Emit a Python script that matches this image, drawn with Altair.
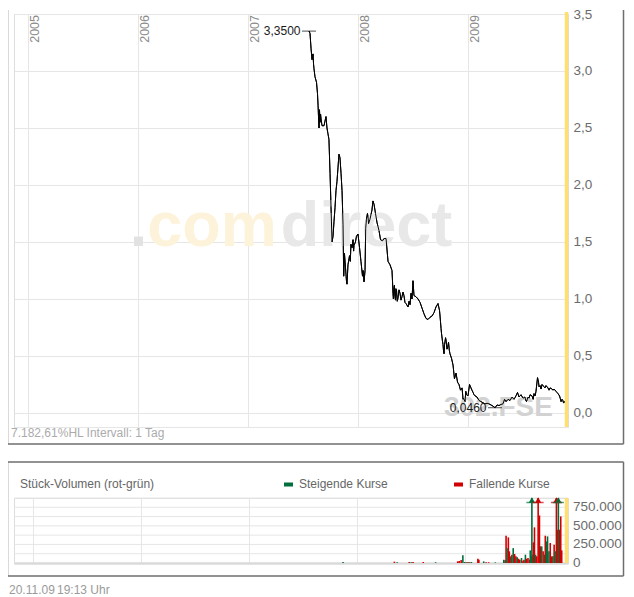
import altair as alt
import pandas as pd

# ---------------- data ----------------
years = [2005, 2006, 2007, 2008, 2009]
year_labels = ["2005", "2006", "2007", "2008", "2009"]

price_year = [
    2007.555, 2007.564, 2007.573, 2007.582, 2007.591, 2007.600, 2007.609, 2007.623, 2007.632, 2007.641,
    2007.646, 2007.650, 2007.655, 2007.664, 2007.673, 2007.691, 2007.709, 2007.718, 2007.727, 2007.736,
    2007.746, 2007.755, 2007.764, 2007.773, 2007.782, 2007.791, 2007.800, 2007.809, 2007.818, 2007.827,
    2007.836, 2007.846, 2007.855, 2007.864, 2007.877, 2007.886, 2007.900, 2007.909, 2007.923, 2007.936,
    2007.946, 2007.955, 2007.964, 2007.977, 2007.986, 2008.000, 2008.014, 2008.027, 2008.046, 2008.055,
    2008.064, 2008.077, 2008.086, 2008.096, 2008.109, 2008.127, 2008.136, 2008.146, 2008.159, 2008.173,
    2008.191, 2008.205, 2008.223, 2008.236, 2008.255, 2008.273, 2008.291, 2008.309, 2008.318, 2008.327,
    2008.336, 2008.350, 2008.364, 2008.382, 2008.400, 2008.418, 2008.436, 2008.455, 2008.464, 2008.482,
    2008.500, 2008.509, 2008.527, 2008.546, 2008.564, 2008.582, 2008.600, 2008.618, 2008.636, 2008.655,
    2008.673, 2008.691, 2008.709, 2008.727, 2008.741, 2008.750, 2008.759, 2008.773, 2008.782, 2008.796,
    2008.809, 2008.823, 2008.836, 2008.850, 2008.864, 2008.877, 2008.891, 2008.905, 2008.918, 2008.932,
    2008.946, 2008.959, 2008.973, 2008.986, 2009.000, 2009.014, 2009.027, 2009.046, 2009.064, 2009.082,
    2009.100, 2009.118, 2009.136, 2009.155, 2009.173, 2009.191, 2009.209, 2009.227, 2009.246, 2009.264,
    2009.282, 2009.300, 2009.318, 2009.332, 2009.346, 2009.364, 2009.382, 2009.400, 2009.418, 2009.436,
    2009.450, 2009.464, 2009.482, 2009.500, 2009.518, 2009.532, 2009.546, 2009.564, 2009.582, 2009.600,
    2009.618, 2009.632, 2009.641, 2009.655, 2009.673, 2009.691, 2009.709, 2009.727, 2009.746, 2009.764,
    2009.782, 2009.800, 2009.818, 2009.832, 2009.846, 2009.855, 2009.868, 2009.882,
]
price_value = [
    3.35, 3.33, 3.20, 3.10, 3.15, 3.02, 2.95, 2.90, 2.80, 2.60,
    2.50, 2.66, 2.55, 2.58, 2.52, 2.52, 2.60, 2.50, 2.45, 2.40,
    2.10, 1.80, 1.50, 1.55, 1.68, 1.80, 1.95, 2.03, 2.15, 2.27,
    2.24, 2.10, 1.95, 1.65, 1.40, 1.28, 1.13, 1.30, 1.38, 1.48,
    1.45, 1.52, 1.47, 1.50, 1.55, 1.57, 1.45, 1.33, 1.25, 1.15,
    1.25, 1.70, 1.75, 1.66, 1.70, 1.78, 1.86, 1.83, 1.75, 1.67,
    1.60, 1.52, 1.51, 1.53, 1.53, 1.33, 1.30, 1.25, 1.05, 1.10,
    1.02, 1.08, 1.01, 1.05, 1.02, 1.03, 0.96, 0.93, 0.98, 1.05,
    1.16, 1.03, 1.02, 1.00, 0.97, 0.92, 0.87, 0.83, 0.82, 0.84,
    0.85, 0.88, 0.93, 0.96, 0.90, 0.80, 0.70, 0.60, 0.52, 0.66,
    0.56, 0.62, 0.52, 0.48, 0.42, 0.30, 0.35, 0.27, 0.25, 0.20,
    0.22, 0.13, 0.10, 0.16, 0.15, 0.25, 0.22, 0.18, 0.15, 0.14,
    0.11, 0.10, 0.09, 0.08, 0.085, 0.08, 0.07, 0.06, 0.046, 0.07,
    0.065, 0.075, 0.08, 0.12, 0.10, 0.12, 0.11, 0.14, 0.12, 0.15,
    0.18, 0.14, 0.16, 0.13, 0.14, 0.10, 0.14, 0.16, 0.15, 0.17,
    0.19, 0.31, 0.27, 0.24, 0.25, 0.23, 0.24, 0.22, 0.22, 0.21,
    0.21, 0.19, 0.17, 0.15, 0.10, 0.12, 0.09, 0.10,
]
price_detail_year = [
    2007.596, 2007.637, 2007.660, 2007.700,
    2007.870, 2007.895, 2007.930, 2007.960,
    2008.041, 2008.070, 2008.091, 2008.118,
    2008.314, 2008.322, 2008.331, 2008.341, 2008.345, 2008.357, 2008.373, 2008.391,
    2008.409, 2008.427, 2008.473, 2008.491,
    2008.745, 2008.755, 2008.768, 2008.777, 2008.787, 2008.800, 2008.816, 2008.830,
    2008.955, 2008.980, 2009.036, 2009.055,
    2009.525, 2009.555, 2009.592, 2009.610, 2009.646, 2009.664, 2009.700, 2009.737,
    2009.773, 2009.809, 2009.838, 2009.862,
]
price_detail_value = [
    3.06, 2.70, 2.62, 2.56,
    1.20, 1.16, 1.33, 1.42,
    1.20, 1.62, 1.72, 1.74,
    1.15, 1.00, 1.12, 0.99, 1.09, 0.98, 1.08, 0.99,
    1.06, 0.97, 0.95, 1.00,
    0.86, 0.74, 0.63, 0.55, 0.60, 0.64, 0.58, 0.55,
    0.12, 0.19, 0.20, 0.16,
    0.11, 0.13, 0.12, 0.15, 0.23, 0.21, 0.22, 0.20,
    0.20, 0.18, 0.13, 0.11,
]

high_year, high_value, high_label = 2007.555, 3.35, "3,3500"
low_year, low_value, low_label = 2009.2455, 0.046, "0,0460"

price_ticks = [0.0, 0.5, 1.0, 1.5, 2.0, 2.5, 3.0, 3.5]

vol_year = [
    2007.873, 2008.348, 2008.373, 2008.485, 2008.503, 2008.521, 2008.615, 2008.730,
    2008.934, 2008.948, 2008.966, 2008.982, 2009.000, 2009.015, 2009.030, 2009.045, 2009.061,
    2009.121, 2009.130, 2009.175, 2009.197, 2009.221, 2009.282,
    2009.361, 2009.373, 2009.382, 2009.391, 2009.403, 2009.412, 2009.425, 2009.436, 2009.448,
    2009.461, 2009.473, 2009.485, 2009.497, 2009.509, 2009.525, 2009.539, 2009.548, 2009.561,
    2009.573, 2009.585, 2009.600, 2009.606, 2009.615, 2009.621, 2009.630, 2009.636, 2009.645,
    2009.655, 2009.666, 2009.679, 2009.691, 2009.700, 2009.712, 2009.725, 2009.736, 2009.745,
    2009.757, 2009.766, 2009.779, 2009.791, 2009.803, 2009.815, 2009.827, 2009.836, 2009.848,
    2009.857, 2009.866, 2009.879, 2009.888, 2009.897,
]
vol_value = [
    13000, 18000, 10000, 13000, 10000, 13000, 13000, 10000,
    22000, 27000, 40000, 103000, 13000, 10000, 13000, 10000, 13000,
    58000, 45000, 22000, 10000, 10000, 8000,
    45000, 36000, 367000, 200000, 345000, 157000, 90000, 112000, 200000,
    121000, 90000, 76000, 58000, 45000, 67000, 31000, 45000, 112000,
    58000, 67000, 45000, 170000, 90000, 1200000, 112000, 278000, 480000,
    112000, 90000, 1300000, 640000, 224000, 224000, 157000, 112000, 367000,
    291000, 358000, 157000, 269000, 90000, 90000, 246000, 157000, 1100000,
    448000, 1150000, 448000, 627000, 170000,
]
vol_dir = [
    "up", "down", "up", "down", "up", "down", "down", "up",
    "down", "down", "down", "up", "up", "down", "up", "down", "up",
    "down", "down", "up", "down", "down", "up",
    "up", "up", "down", "up", "down", "down", "up", "down", "up",
    "down", "down", "up", "down", "down", "up", "down", "down", "up",
    "down", "down", "down", "up", "up", "up", "up", "down", "down",
    "up", "down", "down", "down", "down", "up", "down", "up", "down",
    "up", "up", "up", "down", "down", "up", "down", "up", "down",
    "down", "up", "down", "down", "down",
]
vol_grid = [125000, 250000, 375000, 500000, 625000, 750000, 875000]
vol_label_values = [0, 250000, 500000, 750000]
vol_label_texts = ["0", "250.000", "500.000", "750.000"]
vol_max = 875000

X_DOMAIN = [2004.873, 2009.909]

GREEN = "#006f3c"
RED = "#d20000"
YELLOW = "#ffdf70"
GRID = "#e6e6e6"
FRAME = "#6e6e6e"
FONT = "Liberation Sans"
LABEL = "#6b6b6b"

price_df = pd.concat([
    pd.DataFrame({"year": price_year, "price": price_value}),
    pd.DataFrame({"year": price_detail_year, "price": price_detail_value}),
]).sort_values("year").reset_index(drop=True)
years_df = pd.DataFrame({"year": years, "label": year_labels})
vol_df = pd.DataFrame({"year": vol_year, "vol": vol_value, "dir": vol_dir})
vgrid_df = pd.DataFrame({"v": vol_grid})
vlab_df = pd.DataFrame({"v": vol_label_values, "t": vol_label_texts})
high_df = pd.DataFrame({"year": [high_year], "price": [high_value], "label": [high_label]})
low_df = pd.DataFrame({"year": [low_year], "price": [low_value], "label": [low_label]})
one = pd.DataFrame({"a": [0]})

xs = alt.Scale(domain=X_DOMAIN, nice=False, zero=False)
ys = alt.Scale(domain=[-0.123, 3.5], nice=False, zero=False)
vs = alt.Scale(domain=[0, vol_max], nice=False, zero=True)

W1, H1 = 554, 413
W2, H2 = 554, 65
XL = -6.5   # left frame line (relative to plot left)
XR = 609.5  # right frame line (relative to plot left)

# ---------------- price panel ----------------
x_axis_p = alt.Axis(values=years, grid=True, gridColor=GRID, gridWidth=1, labels=False,
                    ticks=False, domain=True, domainColor=GRID, title=None)
y_axis_p = alt.Axis(orient="right", values=price_ticks, grid=True, gridColor=GRID, ticks=False,
                    domain=False, title=None, labelPadding=5, labelFontSize=13.5,
                    labelColor=LABEL, labelFont=FONT, labelOverlap=False,
                    labelExpr="replace(format(datum.value, '.1f'), '.', ',')")


def wm(text, xyr, yv, color, size):
    return alt.Chart(one).mark_text(text=text, align="left", baseline="alphabetic",
                                    fontSize=size, fontWeight="bold", font=FONT,
                                    color=color).encode(
        x=alt.X("xx:Q", scale=xs), y=alt.Y("yy:Q", scale=ys)
    ).transform_calculate(xx=str(xyr), yy=str(yv))


wm_dot = wm(".", 2005.925, 1.465, "#e2e2e2", 63)
wm_com = wm("com", 2006.085, 1.465, "#fdf3da", 63)
wm_direct = wm("direct", 2007.297, 1.465, "#e7e8e7", 63)
wm_fse = wm("302.FSE", 2008.782, -0.026, "#d2d2d2", 28)

stripe1 = alt.Chart(one).mark_rule(color=YELLOW, strokeWidth=3.5).encode(
    x=alt.value(552.5), y=alt.value(-2), y2=alt.value(H1))

line = alt.Chart(price_df).mark_line(color="#000000", strokeWidth=1, interpolate="linear").encode(
    x=alt.X("year:Q", scale=xs, axis=x_axis_p),
    y=alt.Y("price:Q", scale=ys, axis=y_axis_p),
    order="year:Q",
)


def marker(df):
    tick = alt.Chart(df).mark_tick(orient="horizontal", size=14, thickness=1, color="#000000").encode(
        x=alt.X("year:Q", scale=xs), y=alt.Y("price:Q", scale=ys))
    txt = alt.Chart(df).mark_text(align="right", baseline="middle", dx=-8.5, fontSize=12,
                                  font=FONT, color="#1a1a1a").encode(
        x=alt.X("year:Q", scale=xs), y=alt.Y("price:Q", scale=ys), text="label:N")
    return tick + txt


year_txt = alt.Chart(years_df).mark_text(angle=270, align="right", baseline="top", dy=1,
                                         fontSize=12.5, font=FONT, color="#8a8a8a").encode(
    x=alt.X("year:Q", scale=xs), y=alt.value(1), text="label:N")

frame1_l = alt.Chart(one).mark_rule(color=FRAME, strokeWidth=1.5).encode(
    x=alt.value(XL), y=alt.value(-4), y2=alt.value(430))
frame1_r = alt.Chart(one).mark_rule(color=FRAME, strokeWidth=1.5).encode(
    x=alt.value(XR), y=alt.value(-4), y2=alt.value(430))
frame1_b = alt.Chart(one).mark_rule(color=FRAME, strokeWidth=1.5).encode(
    x=alt.value(XL), x2=alt.value(XR), y=alt.value(430))

info_txt = alt.Chart(one).mark_text(text="7.182,61%HL Intervall: 1 Tag", align="left",
                                    baseline="middle", fontSize=12, font=FONT,
                                    color="#ababab").encode(
    x=alt.value(-3), y=alt.value(419))

panel1 = alt.layer(
    line, wm_dot, wm_com, wm_direct, wm_fse, stripe1, line,
    marker(high_df), marker(low_df), year_txt,
    frame1_l, frame1_r, frame1_b, info_txt,
).properties(width=W1, height=H1)

# ---------------- volume panel ----------------
x_axis_v = alt.Axis(values=years, grid=True, gridColor=GRID, gridWidth=1, labels=False,
                    ticks=False, domain=True, domainColor="#dadada", domainWidth=2.5, title=None)

color_enc = alt.Color("dir:N", scale=alt.Scale(domain=["up", "down"], range=[GREEN, RED]), legend=None)

vgrid = alt.Chart(vgrid_df).mark_rule(color=GRID, strokeWidth=1).encode(
    x=alt.value(0), x2=alt.value(W2), y=alt.Y("v:Q", scale=vs, axis=None))
vlabels = alt.Chart(vlab_df).mark_text(align="left", baseline="middle", dx=5, fontSize=13.5,
                                       font=FONT, color=LABEL).encode(
    x=alt.value(W2), y=alt.Y("v:Q", scale=vs, axis=None), text="t:N")

bars = alt.Chart(vol_df).mark_bar(size=1.6, clip=True).encode(
    x=alt.X("year:Q", scale=xs, axis=x_axis_v),
    y=alt.Y("vol:Q", scale=vs, axis=None),
    color=color_enc,
)

over = alt.Chart(vol_df).transform_filter(f"datum.vol > {vol_max}").transform_calculate(top=str(vol_max))
arrows = over.mark_point(shape="triangle-up", filled=True, size=38, yOffset=2, opacity=1).encode(
    x=alt.X("year:Q", scale=xs), y=alt.Y("top:Q", scale=vs, axis=None), color=color_enc)
arrow_base = over.mark_tick(orient="horizontal", size=11, thickness=1.5, yOffset=4.5).encode(
    x=alt.X("year:Q", scale=xs), y=alt.Y("top:Q", scale=vs, axis=None), color=color_enc)

stripe2 = alt.Chart(one).mark_rule(color=YELLOW, strokeWidth=3.5).encode(
    x=alt.value(552.5), y=alt.value(0), y2=alt.value(H2))

vtitle = alt.Chart(one).mark_text(text="Stück-Volumen (rot-grün)", align="left", baseline="middle",
                                  fontSize=12, font=FONT, color="#666666").encode(
    x=alt.value(6), y=alt.value(-14))
leg_g = alt.Chart(one).mark_rule(color=GREEN, strokeWidth=4).encode(
    x=alt.value(270), x2=alt.value(279), y=alt.value(-13.5))
leg_g_t = alt.Chart(one).mark_text(text="Steigende Kurse", align="left", baseline="middle",
                                   fontSize=12, font=FONT, color="#666666").encode(
    x=alt.value(285), y=alt.value(-14))
leg_r = alt.Chart(one).mark_rule(color=RED, strokeWidth=4).encode(
    x=alt.value(440), x2=alt.value(449), y=alt.value(-13.5))
leg_r_t = alt.Chart(one).mark_text(text="Fallende Kurse", align="left", baseline="middle",
                                   fontSize=12, font=FONT, color="#666666").encode(
    x=alt.value(455), y=alt.value(-14))

frame2_l = alt.Chart(one).mark_rule(color=FRAME, strokeWidth=1.5).encode(
    x=alt.value(XL), y=alt.value(-36), y2=alt.value(78))
frame2_r = alt.Chart(one).mark_rule(color=FRAME, strokeWidth=1.5).encode(
    x=alt.value(XR), y=alt.value(-36), y2=alt.value(78))
frame2_t = alt.Chart(one).mark_rule(color=FRAME, strokeWidth=1.5).encode(
    x=alt.value(XL), x2=alt.value(XR), y=alt.value(-36))
frame2_b = alt.Chart(one).mark_rule(color=FRAME, strokeWidth=1.5).encode(
    x=alt.value(XL), x2=alt.value(XR), y=alt.value(78))

foot1 = alt.Chart(one).mark_text(text="20.11.09", align="left", baseline="middle",
                                 fontSize=12, font=FONT, color="#9a9a9a").encode(
    x=alt.value(-5), y=alt.value(92))
foot2 = alt.Chart(one).mark_text(text="19:13 Uhr", align="left", baseline="middle",
                                 fontSize=12, font=FONT, color="#9a9a9a").encode(
    x=alt.value(43), y=alt.value(92))

panel2 = alt.layer(
    vgrid, bars, stripe2, arrows, arrow_base, vlabels, vtitle, leg_g, leg_g_t, leg_r, leg_r_t,
    frame2_t, frame2_l, frame2_r, frame2_b, foot1, foot2,
).properties(width=W2, height=H2)

chart = alt.vconcat(panel1, panel2, spacing=71, bounds="flush").resolve_scale(
    x="independent", y="independent", color="shared"
).properties(padding={"left": -2, "top": -2, "right": 0, "bottom": 0}
).configure_view(stroke=None).configure(font=FONT)

chart.save("out.html", embed_options={"renderer": "svg", "actions": False})
